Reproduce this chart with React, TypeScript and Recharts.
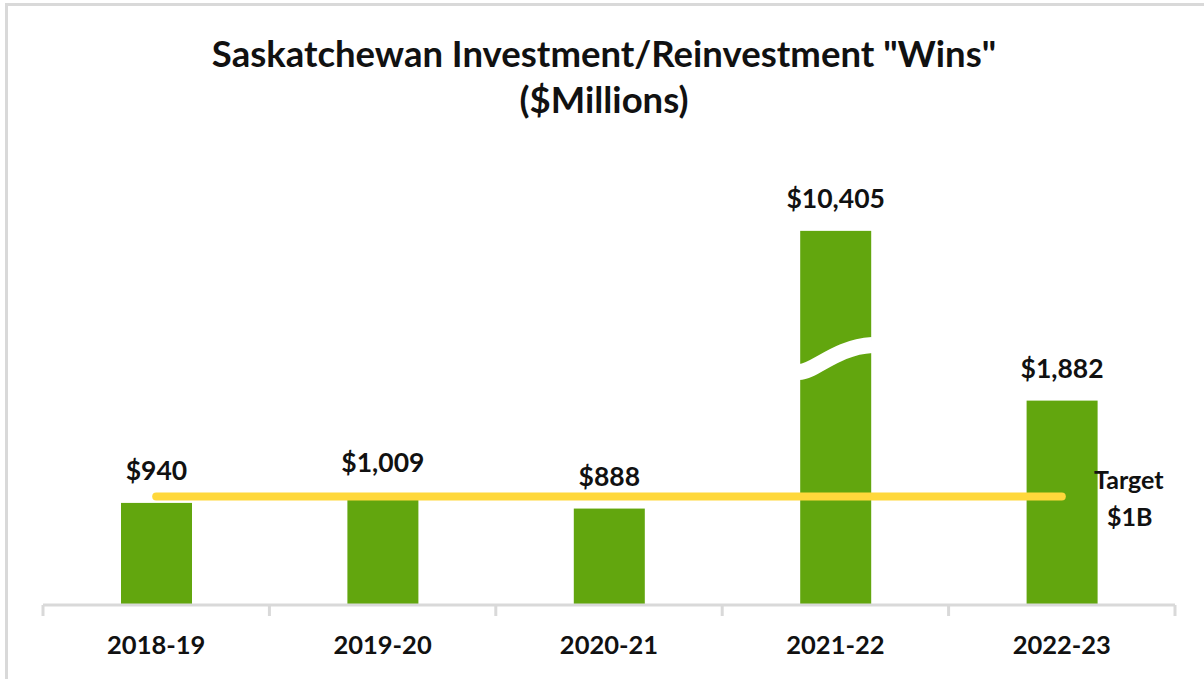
import { Bar, ComposedChart, LabelList, Line, XAxis, YAxis } from "recharts";

const categories = ["2018-19", "2019-20", "2020-21", "2021-22", "2022-23"];
const wins = [940, 1009, 888, 10405, 1882];
const target = [1000, 1000, 1000, 1000, 1000];

// bars taller than this are cut with an axis break
const BREAK_CAP = 3445;
const BREAK_AT = 2270;

const FONT = "Lato, 'Open Sans', sans-serif";
const GREEN = "#62A60E";
const YELLOW = "#FFD83B";
const GRID = "#d9d9d9";
const PLOT_W = 1132;
const BAND = PLOT_W / categories.length;

const data = categories.map((year, i) => ({
  year,
  wins: wins[i],
  shown: Math.min(wins[i], BREAK_CAP),
  target: target[i],
}));

const formatMoney = (v: number): string => "$" + v.toLocaleString("en-US");

const BrokenBar = (props: any) => {
  const { x, y, width, height, fill, index } = props;
  const value = wins[index];
  const rect = <rect x={x} y={y} width={width} height={height} fill={fill} />;
  if (value <= BREAK_CAP) return rect;
  const yc = y + height * (1 - BREAK_AT / BREAK_CAP);
  const yl = yc + 13.5;
  const yr = yc - 13.5;
  return (
    <g>
      {rect}
      <path
        d={`M ${x - 1} ${yl} C ${x + width * 0.2} ${yl}, ${x + width * 0.5} ${yr + 2}, ${x + width + 1} ${yr}`}
        stroke="#fff"
        strokeWidth={16}
        fill="none"
      />
    </g>
  );
};

const WinLabel = (props: any) => {
  const { index } = props;
  const vb = props.viewBox || props;
  const x = vb.x + vb.width / 2;
  return (
    <text
      x={x}
      y={vb.y - 23}
      textAnchor="middle"
      fontFamily={FONT}
      fontWeight={700}
      fontSize={26.5}
      fill="#111"
    >
      {formatMoney(wins[index])}
    </text>
  );
};

const TargetLabel = (props: any) => {
  const { x, y, index } = props;
  if (index !== categories.length - 1) return null;
  return (
    <text fontFamily={FONT} fontWeight={700} fontSize={25} fill="#111" textAnchor="middle">
      <tspan x={x + 67} y={y - 7}>Target</tspan>
      <tspan x={x + 68} y={y + 30}>$1B</tspan>
    </text>
  );
};

const YearTick = (props: any) => {
  const { x, y, payload, index } = props;
  const last = index === categories.length - 1;
  return (
    <g>
      <line x1={x - BAND / 2} x2={x - BAND / 2} y1={y} y2={y + 11} stroke={GRID} strokeWidth={3} />
      {last && (
        <line x1={x + BAND / 2} x2={x + BAND / 2} y1={y} y2={y + 11} stroke={GRID} strokeWidth={3} />
      )}
      <text
        x={x}
        y={y + 49}
        textAnchor="middle"
        fontFamily={FONT}
        fontWeight={700}
        fontSize={25.5}
        fill="#111"
      >
        {payload.value}
      </text>
    </g>
  );
};

export default function App() {
  return (
    <div
      style={{
        position: "absolute",
        left: 0,
        top: 0,
        width: 1204,
        height: 679,
        background: "#fff",
        overflow: "hidden",
      }}
    >
      <div
        style={{
          position: "absolute",
          left: 5,
          top: 3,
          right: 0,
          bottom: 0,
          borderTop: `3px solid ${GRID}`,
          borderLeft: `3px solid ${GRID}`,
        }}
      />
      <ComposedChart
        width={1204}
        height={679}
        data={data}
        margin={{ top: 201, right: 29, bottom: 0, left: 43 }}
      >
        <XAxis
          dataKey="year"
          height={74}
          interval={0}
          tickLine={false}
          tickSize={0}
          tickMargin={0}
          axisLine={{ stroke: GRID, strokeWidth: 3 }}
          tick={<YearTick />}
        />
        <YAxis hide domain={[0, 3720]} />
        <Bar dataKey="shown" barSize={71} fill={GREEN} isAnimationActive={false} shape={<BrokenBar />}>
          <LabelList dataKey="wins" content={<WinLabel />} />
        </Bar>
        <Line
          dataKey="target"
          stroke={YELLOW}
          strokeWidth={8}
          strokeLinecap="round"
          dot={false}
          activeDot={false}
          isAnimationActive={false}
          label={<TargetLabel />}
        />
      </ComposedChart>
      <svg
        width={1204}
        height={140}
        style={{ position: "absolute", left: 0, top: 0, pointerEvents: "none" }}
      >
        <text x={604} y={67} textAnchor="middle" fontFamily={FONT} fontWeight={700} fontSize={36.5} fill="#111">
          Saskatchewan Investment/Reinvestment "Wins"
        </text>
        <text x={604} y={113} textAnchor="middle" fontFamily={FONT} fontWeight={700} fontSize={36.5} fill="#111">
          ($Millions)
        </text>
      </svg>
    </div>
  );
}
